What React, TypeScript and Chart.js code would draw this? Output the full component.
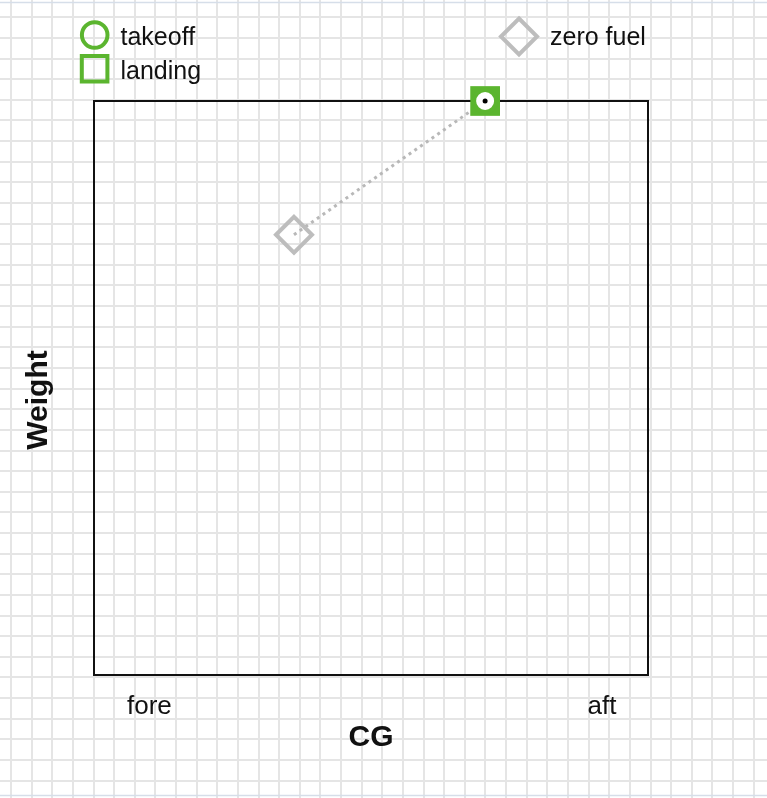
import { useEffect, useRef } from 'react';
import { Chart, registerables } from 'chart.js';

Chart.register(...registerables);

// ---- data ----
const seriesNames = ['takeoff', 'landing', 'zero fuel'];
const takeoffPoints = [{ x: 70.6, y: 100 }];
const landingPoints = [{ x: 70.6, y: 100 }];
const zeroFuelPoints = [{ x: 36.1, y: 76.7 }];
const cgTickValues = [10, 91.7];
const cgTickLabels = ['fore', 'aft'];
const xAxisTitle = 'CG';
const yAxisTitle = 'Weight';

const GREEN = '#5bb52f';
const GRAY = '#bdbdbd';
const FONT = '"Liberation Sans", Arial, Helvetica, sans-serif';

function circlePath(ctx: CanvasRenderingContext2D, x: number, y: number, r: number) {
  ctx.beginPath();
  ctx.arc(x, y, r, 0, Math.PI * 2);
  ctx.closePath();
}
function squarePath(ctx: CanvasRenderingContext2D, x: number, y: number, h: number) {
  ctx.beginPath();
  ctx.rect(x - h, y - h, 2 * h, 2 * h);
  ctx.closePath();
}
function diamondPath(ctx: CanvasRenderingContext2D, x: number, y: number, r: number) {
  ctx.beginPath();
  ctx.moveTo(x, y - r);
  ctx.lineTo(x + r, y);
  ctx.lineTo(x, y + r);
  ctx.lineTo(x - r, y);
  ctx.closePath();
}

const backgroundPlugin = {
  id: 'paperGrid',
  beforeDraw(chart: any) {
    const { ctx, width, height } = chart;
    ctx.save();
    ctx.fillStyle = '#ffffff';
    ctx.fillRect(0, 0, width, height);
    ctx.strokeStyle = '#e5e5e5';
    ctx.lineWidth = 2;
    const step = 20.63;
    ctx.beginPath();
    for (let k = 0; 11 + k * step < width + 2; k++) {
      const x = Math.round(11 + k * step);
      ctx.moveTo(x, 0);
      ctx.lineTo(x, height);
    }
    for (let k = 0; 17.3 + k * step < height + 2; k++) {
      const y = Math.round(17.3 + k * step);
      ctx.moveTo(0, y);
      ctx.lineTo(width, y);
    }
    ctx.stroke();
    ctx.strokeStyle = '#d6dee9';
    ctx.lineWidth = 1.5;
    ctx.beginPath();
    ctx.moveTo(0, 2.5);
    ctx.lineTo(width, 2.5);
    ctx.moveTo(0, 795.5);
    ctx.lineTo(width, 795.5);
    ctx.stroke();
    ctx.restore();
  },
  beforeDatasetsDraw(chart: any) {
    const { ctx, chartArea } = chart;
    ctx.save();
    ctx.strokeStyle = '#111111';
    ctx.lineWidth = 2;
    ctx.strokeRect(chartArea.left, chartArea.top, chartArea.right - chartArea.left, chartArea.bottom - chartArea.top);
    ctx.restore();
  },
};

const legendPlugin = {
  id: 'customLegend',
  afterDraw(chart: any) {
    const { ctx, chartArea } = chart;
    ctx.save();
    ctx.font = `25px ${FONT}`;
    ctx.fillStyle = '#111111';
    ctx.textBaseline = 'alphabetic';
    ctx.textAlign = 'left';
    // takeoff
    ctx.lineWidth = 4;
    ctx.strokeStyle = GREEN;
    circlePath(ctx, 94.7, 35, 12.8);
    ctx.stroke();
    ctx.fillText(seriesNames[0], 120.5, 45);
    // landing
    squarePath(ctx, 94.6, 68.7, 12.8);
    ctx.stroke();
    ctx.fillText(seriesNames[1], 120.5, 79);
    // zero fuel
    ctx.strokeStyle = GRAY;
    diamondPath(ctx, 519, 36.5, 18);
    ctx.stroke();
    ctx.fillText(seriesNames[2], 550, 44.5);

    // y axis title (Weight), rotated
    ctx.font = `bold 30px ${FONT}`;
    ctx.translate(47, (chartArea.top + chartArea.bottom) / 2 + 12);
    ctx.rotate(-Math.PI / 2);
    ctx.textAlign = 'center';
    ctx.fillText(yAxisTitle, 0, 0);
    ctx.restore();
  },
};

export default function App() {
  const canvasRef = useRef<HTMLCanvasElement | null>(null);

  useEffect(() => {
    if (!canvasRef.current) return;
    const chart = new Chart(canvasRef.current, {
      type: 'scatter',
      data: {
        datasets: [
          {
            label: 'center',
            data: takeoffPoints,
            pointStyle: 'circle',
            pointRadius: 2.5,
            pointBackgroundColor: '#000000',
            pointBorderWidth: 0,
            clip: false,
            order: 0,
          },
          {
            label: seriesNames[0],
            data: takeoffPoints,
            pointStyle: 'circle',
            pointRadius: 11,
            pointBorderWidth: 4,
            pointBorderColor: GREEN,
            pointBackgroundColor: '#ffffff',
            clip: false,
            order: 1,
          },
          {
            label: seriesNames[1],
            data: landingPoints,
            pointStyle: 'rect',
            pointRadius: 21,
            pointBorderWidth: 0,
            pointBackgroundColor: GREEN,
            clip: false,
            order: 2,
          },
          {
            label: seriesNames[2],
            data: zeroFuelPoints,
            pointStyle: 'rectRot',
            pointRadius: 18,
            pointBorderWidth: 4,
            pointBorderColor: GRAY,
            pointBackgroundColor: 'rgba(0,0,0,0)',
            clip: false,
            order: 3,
          },
          {
            label: 'path',
            data: [zeroFuelPoints[0], takeoffPoints[0]],
            showLine: true,
            borderColor: '#b8b8b8',
            borderWidth: 3,
            borderDash: [3, 4],
            pointRadius: 0,
            clip: false,
            order: 4,
          } as any,
        ],
      },
      options: {
        animation: false,
        responsive: false,
        devicePixelRatio: 1,
        layout: { padding: { top: 101, right: 119, bottom: 0, left: 0 } },
        plugins: {
          legend: { display: false },
          tooltip: { enabled: false },
          title: { display: false },
        },
        scales: {
          x: {
            type: 'linear',
            min: 0,
            max: 100,
            grid: { display: false },
            border: { display: false },
            afterBuildTicks: (scale: any) => {
              scale.ticks = cgTickValues.map((v) => ({ value: v }));
            },
            afterFit: (scale: any) => {
              scale.height = 123;
            },
            ticks: {
              autoSkip: false,
              maxRotation: 0,
              padding: 8,
              color: '#111111',
              font: { family: FONT, size: 26 },
              callback: (value: any) => {
                const i = cgTickValues.indexOf(Number(value));
                return i >= 0 ? cgTickLabels[i] : '';
              },
            },
            title: {
              display: true,
              text: xAxisTitle,
              color: '#111111',
              font: { family: FONT, size: 30, weight: 'bold' },
              padding: { top: 0, bottom: 42 },
            },
          },
          y: {
            type: 'linear',
            min: 0,
            max: 100,
            grid: { display: false },
            border: { display: false },
            ticks: { display: false },
            afterFit: (scale: any) => {
              scale.width = 94;
            },
            title: { display: false, text: yAxisTitle },
          },
        },
      },
      plugins: [backgroundPlugin, legendPlugin],
    } as any);
    return () => chart.destroy();
  }, []);

  return (
    <div style={{ position: 'absolute', left: 0, top: 0, width: 767, height: 798 }}>
      <canvas ref={canvasRef} width={767} height={798} style={{ display: 'block' }} />
    </div>
  );
}
